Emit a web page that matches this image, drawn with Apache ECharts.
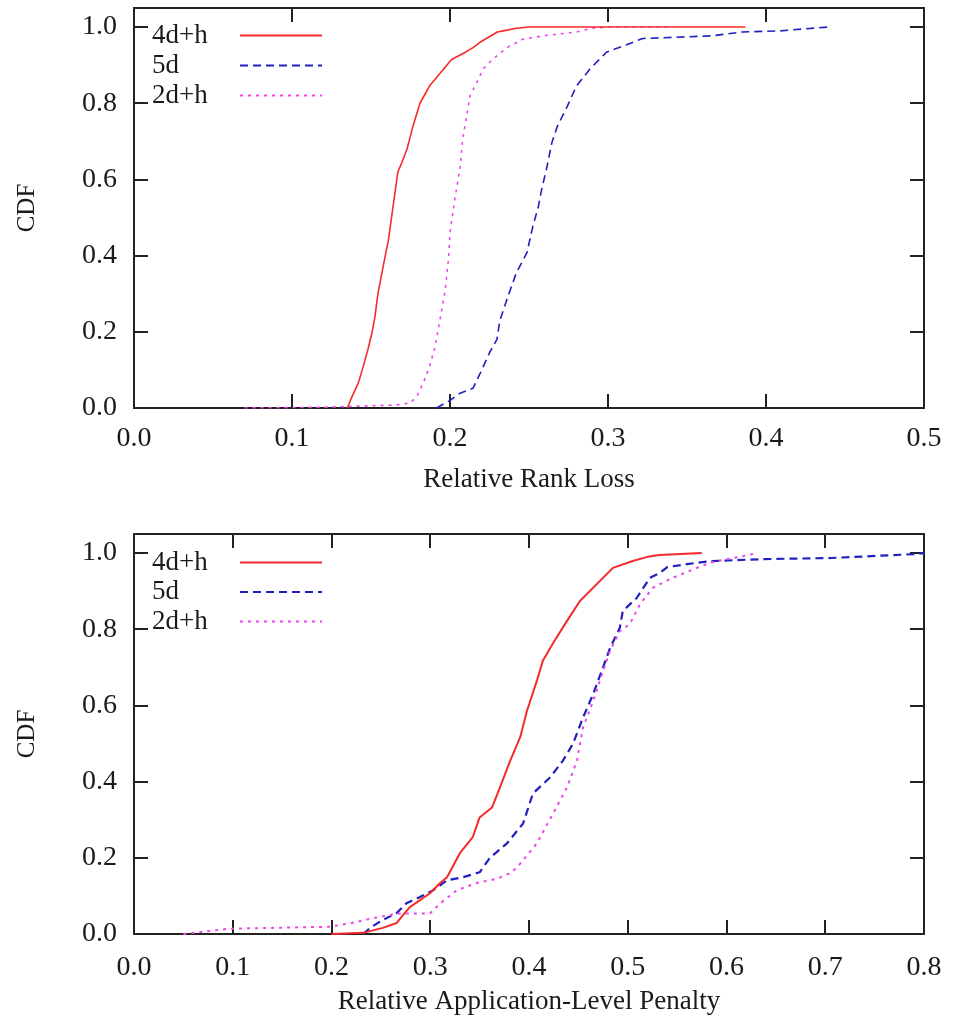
<!DOCTYPE html>
<html>
<head>
<meta charset="utf-8">
<script src="https://cdn.jsdelivr.net/npm/echarts@6/dist/echarts.min.js"></script>
<style>
html,body{margin:0;padding:0;background:#fff;}
#chart{width:957px;height:1021px;}
</style>
</head>
<body>
<div id="chart"></div>
<script>
// ---------- data ----------
const seriesNames = ['4d+h', '5d', '2d+h'];

// Top chart: Relative Rank Loss  [x, CDF]
const rank_4dh = [[0.135,0],[0.1354,0.003],[0.138,0.03],[0.142,0.066],[0.145,0.108],[0.148,0.153],[0.1506,0.197],[0.1525,0.24],[0.1544,0.30],[0.1576,0.37],[0.161,0.44],[0.164,0.53],[0.167,0.62],[0.1696,0.645],[0.1728,0.68],[0.1766,0.74],[0.181,0.80],[0.187,0.845],[0.194,0.88],[0.201,0.915],[0.208,0.93],[0.2146,0.946],[0.219,0.96],[0.223,0.97],[0.23,0.987],[0.2336,0.99],[0.242,0.997],[0.25,1.0],[0.387,1.0]];
const rank_5d = [[0.1915,0],[0.2,0.02],[0.206,0.038],[0.2146,0.052],[0.219,0.09],[0.225,0.145],[0.2297,0.18],[0.2316,0.23],[0.236,0.285],[0.242,0.355],[0.2487,0.408],[0.2525,0.478],[0.256,0.53],[0.258,0.574],[0.261,0.626],[0.2645,0.697],[0.268,0.74],[0.274,0.79],[0.28,0.845],[0.2886,0.89],[0.299,0.934],[0.3095,0.95],[0.322,0.97],[0.366,0.977],[0.385,0.987],[0.409,0.99],[0.439,1.0]];
const rank_2dh = [[0.07,0],[0.12,0.002],[0.166,0.008],[0.1747,0.013],[0.179,0.03],[0.183,0.065],[0.187,0.108],[0.1905,0.16],[0.194,0.24],[0.197,0.31],[0.199,0.39],[0.200,0.46],[0.203,0.547],[0.2065,0.635],[0.208,0.705],[0.2105,0.766],[0.2127,0.82],[0.217,0.855],[0.221,0.89],[0.227,0.915],[0.236,0.946],[0.246,0.968],[0.259,0.977],[0.28,0.987],[0.29,0.997],[0.30,1.0],[0.34,1.0]];

// Bottom chart: Relative Application-Level Penalty  [x, CDF]
const pen_4dh = [[0.20,0],[0.232,0.003],[0.252,0.016],[0.266,0.029],[0.2726,0.05],[0.2795,0.071],[0.2896,0.089],[0.2997,0.107],[0.31,0.134],[0.317,0.149],[0.330,0.212],[0.343,0.254],[0.350,0.306],[0.3625,0.332],[0.3706,0.385],[0.381,0.455],[0.391,0.516],[0.398,0.586],[0.408,0.665],[0.414,0.717],[0.424,0.762],[0.4385,0.822],[0.4516,0.874],[0.4689,0.919],[0.485,0.961],[0.505,0.979],[0.52,0.99],[0.532,0.995],[0.575,1.0]];
const pen_5d = [[0.232,0],[0.239,0.016],[0.252,0.037],[0.266,0.055],[0.276,0.081],[0.2896,0.097],[0.303,0.115],[0.317,0.141],[0.333,0.149],[0.350,0.162],[0.3605,0.20],[0.3777,0.238],[0.394,0.29],[0.404,0.369],[0.421,0.41],[0.4344,0.455],[0.4446,0.50],[0.4547,0.568],[0.465,0.63],[0.475,0.70],[0.482,0.75],[0.492,0.804],[0.495,0.848],[0.509,0.882],[0.5225,0.935],[0.5327,0.948],[0.540,0.963],[0.560,0.971],[0.585,0.979],[0.636,0.984],[0.706,0.987],[0.789,0.997],[0.8,1.0]];
const pen_2dh = [[0.05,0],[0.097,0.014],[0.198,0.019],[0.219,0.028],[0.239,0.04],[0.259,0.05],[0.269,0.054],[0.2997,0.054],[0.31,0.08],[0.327,0.115],[0.347,0.134],[0.3676,0.145],[0.381,0.16],[0.388,0.175],[0.408,0.238],[0.4243,0.316],[0.4385,0.385],[0.4486,0.455],[0.4547,0.542],[0.465,0.612],[0.475,0.69],[0.482,0.743],[0.492,0.795],[0.502,0.813],[0.5124,0.866],[0.5256,0.909],[0.543,0.932],[0.567,0.958],[0.585,0.976],[0.623,0.995],[0.63,1.0]];

const topXTitle = 'Relative Rank Loss';
const bottomXTitle = 'Relative Application-Level Penalty';
const yTitle = 'CDF';

// ---------- styling ----------
const FONT = "'Liberation Serif','Times New Roman',serif";
const TXT = '#1a1a1a';
const AX = '#222';
const colors = {'4d+h': '#f52a2a', '5d': '#2020c0', '2d+h': '#ee44ee'};
const dashes = {'4d+h': 'solid', '5d': [8, 5], '2d+h': [3, 5]};

function xAxes(gridIndex, max, title, gap, margin) {
  const common = {
    type: 'value', gridIndex, min: 0, max, interval: 0.1,
    axisLine: {show: true, onZero: false, lineStyle: {color: AX, width: 2}},
    axisTick: {show: true, inside: true, length: 14, lineStyle: {color: AX, width: 2}},
    splitLine: {show: false}
  };
  return [
    Object.assign({}, common, {
      position: 'bottom',
      axisLabel: {margin, fontFamily: FONT, fontSize: 28, color: TXT,
                  formatter: v => v.toFixed(1)},
      name: title, nameLocation: 'middle', nameGap: gap,
      nameTextStyle: {fontFamily: FONT, fontSize: 27, color: TXT}
    }),
    Object.assign({}, common, {position: 'top', axisLabel: {show: false}})
  ];
}
function yAxes(gridIndex) {
  const common = {
    type: 'value', gridIndex, min: 0, max: 1.05, interval: 0.2,
    axisLine: {show: true, onZero: false, lineStyle: {color: AX, width: 2}},
    axisTick: {show: true, inside: true, length: 14, lineStyle: {color: AX, width: 2}},
    splitLine: {show: false}
  };
  return [
    Object.assign({}, common, {
      position: 'left',
      axisLabel: {margin: 17, fontFamily: FONT, fontSize: 28, color: TXT,
                  formatter: v => (v > 1.0001 ? '' : v.toFixed(1))},
      name: yTitle, nameLocation: 'middle', nameGap: 94, nameRotate: 90,
      nameTextStyle: {fontFamily: FONT, fontSize: 25, color: TXT}
    }),
    Object.assign({}, common, {position: 'right', axisLabel: {show: false}})
  ];
}
function mkSeries(name, data, axisIdx, width) {
  return {
    type: 'line', name, data, xAxisIndex: axisIdx, yAxisIndex: axisIdx,
    symbol: 'none', showSymbol: false, smooth: false,
    lineStyle: {color: colors[name], width, type: dashes[name]},
    itemStyle: {color: colors[name]},
    silent: true, z: name === '4d+h' ? 3 : 2
  };
}
function mkLegend(top, gap) {
  return {
    orient: 'vertical', left: 152, top, align: 'right', padding: 0,
    itemWidth: 82, itemHeight: 14, itemGap: gap,
    itemStyle: {opacity: 0, borderWidth: 0},
    formatter: '{a|{name}}',
    textStyle: {fontFamily: FONT, fontSize: 27, color: TXT,
      rich: {a: {width: 83, align: 'left', fontFamily: FONT, fontSize: 27, lineHeight: 26, color: TXT}}},
    data: seriesNames, selectedMode: false
  };
}

const chart = echarts.init(document.getElementById('chart'), null, {renderer: 'canvas'});
chart.setOption({
  animation: false,
  backgroundColor: '#fff',
  grid: [
    {left: 134, right: 33, top: 8, height: 400},
    {left: 134, right: 33, top: 534, height: 400}
  ],
  xAxis: [...xAxes(0, 0.5, topXTitle, 58, 17), ...xAxes(1, 0.8, bottomXTitle, 54, 20)],
  yAxis: [...yAxes(0), ...yAxes(1)],
  legend: [mkLegend(22, 3), mkLegend(549, 2.5)],
  series: [
    mkSeries('4d+h', rank_4dh, 0, 1.6),
    mkSeries('5d', rank_5d, 0, 1.6),
    mkSeries('2d+h', rank_2dh, 0, 1.6),
    mkSeries('4d+h', pen_4dh, 2, 2),
    mkSeries('5d', pen_5d, 2, 2.2),
    mkSeries('2d+h', pen_2dh, 2, 2)
  ]
});
</script>
</body>
</html>
